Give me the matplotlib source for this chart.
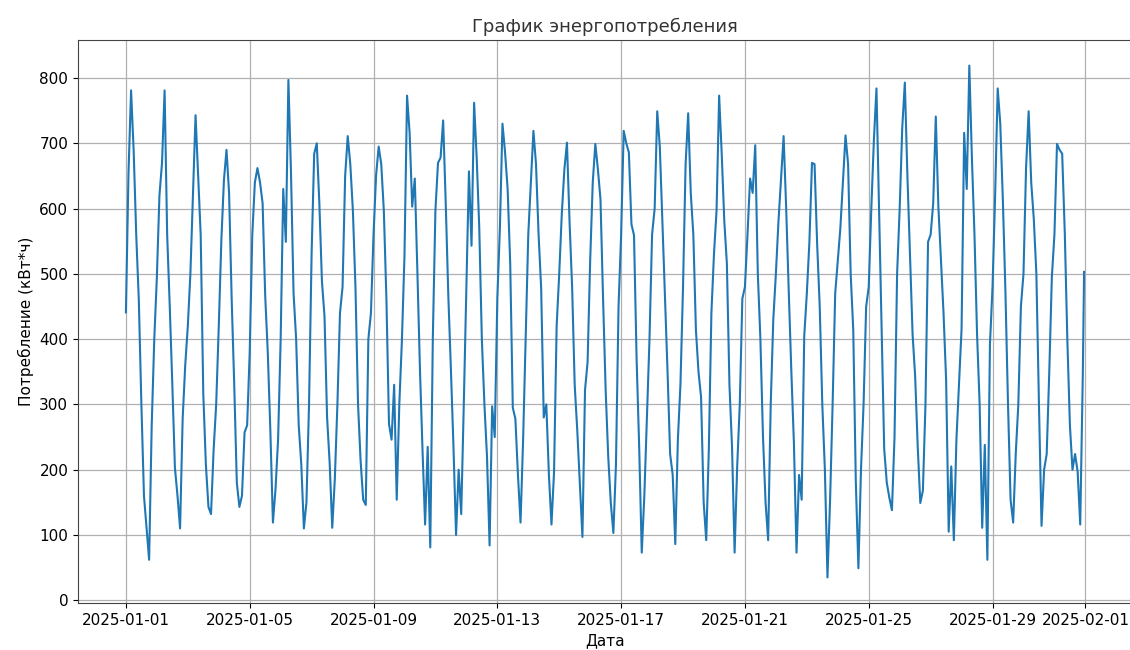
import matplotlib
matplotlib.use("Agg")
import matplotlib.pyplot as plt
import pandas as pd
import numpy as np

# Energy consumption, kWh, sampled every 2 hours (00,02,...,22) per day of January 2025
day_01 = [441, 654, 781, 689, 560, 460, 300, 160, 110, 62, 268, 400]
day_02 = [495, 620, 670, 781, 559, 450, 330, 203, 160, 110, 278, 360]
day_03 = [420, 500, 620, 743, 651, 559, 316, 208, 143, 132, 230, 300]
day_04 = [419, 551, 643, 690, 624, 462, 330, 180, 143, 160, 257, 268]
day_05 = [380, 560, 640, 662, 640, 608, 467, 380, 260, 119, 170, 246]
day_06 = [400, 630, 549, 797, 656, 470, 400, 268, 208, 110, 150, 300]
day_07 = [532, 684, 700, 608, 489, 435, 280, 210, 111, 186, 300, 440]
day_08 = [480, 650, 711, 668, 597, 480, 300, 213, 154, 146, 400, 440]
day_09 = [560, 651, 695, 668, 597, 462, 270, 246, 330, 154, 300, 397]
day_10 = [527, 773, 716, 603, 646, 505, 354, 230, 116, 235, 81, 403]
day_11 = [597, 670, 678, 735, 608, 467, 354, 235, 100, 200, 132, 300]
day_12 = [480, 657, 543, 762, 678, 570, 400, 300, 220, 84, 297, 250]
day_13 = [462, 570, 730, 686, 630, 516, 295, 278, 192, 119, 246, 400]
day_14 = [560, 640, 719, 668, 560, 478, 280, 300, 192, 116, 197, 420]
day_15 = [500, 592, 660, 701, 580, 480, 330, 260, 180, 97, 322, 365]
day_16 = [520, 640, 699, 660, 614, 462, 322, 220, 149, 103, 208, 450]
day_17 = [560, 719, 700, 686, 576, 559, 370, 235, 73, 160, 278, 400]
day_18 = [560, 600, 749, 695, 581, 470, 350, 224, 192, 86, 246, 330]
day_19 = [480, 668, 746, 624, 560, 414, 350, 311, 150, 92, 230, 440]
day_20 = [530, 597, 773, 684, 581, 516, 330, 235, 73, 205, 300, 462]
day_21 = [480, 560, 646, 624, 697, 500, 400, 251, 150, 92, 300, 430]
day_22 = [500, 580, 646, 711, 600, 472, 350, 240, 73, 192, 154, 405]
day_23 = [470, 549, 670, 668, 546, 450, 300, 200, 35, 151, 300, 470]
day_24 = [520, 570, 640, 712, 668, 500, 414, 180, 49, 200, 300, 450]
day_25 = [480, 600, 705, 784, 600, 420, 232, 180, 157, 138, 250, 500]
day_26 = [600, 724, 793, 650, 527, 408, 343, 235, 149, 168, 300, 549]
day_27 = [560, 608, 741, 603, 520, 440, 338, 105, 205, 92, 246, 330]
day_28 = [416, 716, 630, 819, 678, 560, 408, 300, 111, 238, 62, 392]
day_29 = [480, 619, 784, 730, 614, 473, 300, 154, 119, 224, 300, 450]
day_30 = [500, 662, 749, 640, 584, 500, 300, 114, 200, 224, 350, 495]
day_31 = [560, 699, 690, 684, 565, 400, 268, 200, 224, 197, 116, 346]
last_time = "2025-01-31 23:00"
last_value = 503

days = [day_01, day_02, day_03, day_04, day_05, day_06, day_07, day_08,
        day_09, day_10, day_11, day_12, day_13, day_14, day_15, day_16,
        day_17, day_18, day_19, day_20, day_21, day_22, day_23, day_24,
        day_25, day_26, day_27, day_28, day_29, day_30, day_31]

values = [v for d in days for v in d]
times = list(pd.date_range("2025-01-01", periods=len(values), freq="2h"))
times.append(pd.Timestamp(last_time))
values.append(last_value)

title = "График энергопотребления"
xlabel = "Дата"
ylabel = "Потребление (кВт*ч)"

plt.rcParams['font.family'] = ['DejaVu Sans']
fig = plt.figure(figsize=(11.3, 6.5), dpi=100)
ax = fig.add_axes([78/1130, 47/650, 1054/1130, 563/650])
ax.plot(times, values, color="#1f77b4", linewidth=1.5)
ax.grid(True, color="#b0b0b0", linewidth=0.9)
ax.set_yticks(np.arange(0, 801, 100))
ax.tick_params(labelsize=11)
ax.set_title(title, fontsize=13, color="#333333")
ax.set_xlabel(xlabel, fontsize=11)
ax.set_ylabel(ylabel, fontsize=11)
for s in ax.spines.values():
    s.set_color("#444444")
fig.savefig("out.png", dpi=100)
